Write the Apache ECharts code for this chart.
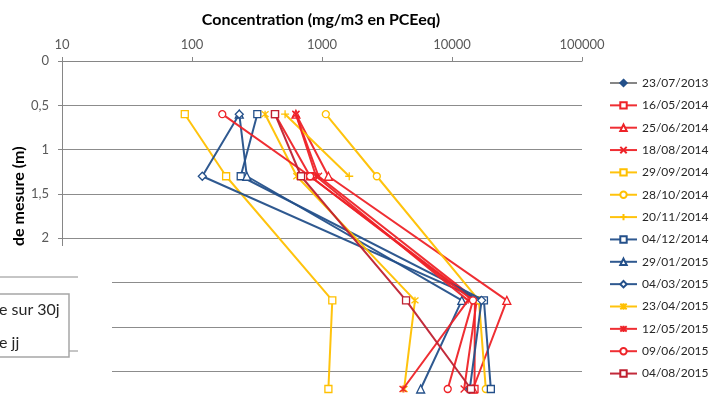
<!DOCTYPE html>
<html>
<head>
<meta charset="utf-8">
<script src="https://cdn.jsdelivr.net/npm/echarts@6/dist/echarts.min.js"></script>
<style>
html,body{margin:0;padding:0;background:#fff;}
#chart{width:709px;height:412px;}
</style>
</head>
<body>
<div id="chart"></div>
<script>
// ---- data ----
const depths = [0.6, 1.3, 2.7, 3.7];
const xTickLabels = ['10', '100', '1000', '10000', '100000'];
const seriesNames = ['23/07/2013','16/05/2014','25/06/2014','18/08/2014','29/09/2014','28/10/2014','20/11/2014','04/12/2014','29/01/2015','04/03/2015','23/04/2015','12/05/2015','09/06/2015','04/08/2015'];
const v_23_07_2013 = [null, null, null, null];
const v_16_05_2014 = [435, 810, 15000, 14900];
const v_25_06_2014 = [630, 1120, 26400, 14500];
const v_18_08_2014 = [630, 940, 15500, 12400];
const v_29_09_2014 = [88, 183, 1200, 1120];
const v_28_10_2014 = [1070, 2640, 16100, 18200];
const v_20_11_2014 = [520, 1620, null, null];
const v_04_12_2014 = [318, 237, 17600, 19900];
const v_29_01_2015 = [231, 264, 11900, 5740];
const v_04_03_2015 = [231, 120, 16900, 13700];
const v_23_04_2015 = [365, 640, 5190, 4280];
const v_12_05_2015 = [630, 900, 13300, 4200];
const v_09_06_2015 = [171, 810, 14500, 9270];
const v_04_08_2015 = [435, 690, 4430, 14000];
const allValues = [v_23_07_2013, v_16_05_2014, v_25_06_2014, v_18_08_2014, v_29_09_2014, v_28_10_2014, v_20_11_2014, v_04_12_2014, v_29_01_2015, v_04_03_2015, v_23_04_2015, v_12_05_2015, v_09_06_2015, v_04_08_2015];

// ---- styles ----
const RED = '#EE2328', GOLD = '#FFC000', BLUE = '#24508A', DRED = '#BF2030', GRAY = '#7F7F7F';
const X_SYM = 'path://M0,0L10,10M10,0L0,10';
const PLUS_SYM = 'path://M5,0L5,10M0,5L10,5';
const STAR_SYM = 'path://M0,0L10,10M10,0L0,10M5,-1L5,11';
const styles = [
  {c: GRAY, s: 'diamond', size: 5, fill: BLUE, border: BLUE},
  {c: RED, s: 'rect', size: 7},
  {c: RED, s: 'triangle', size: 8},
  {c: RED, s: X_SYM, size: 7},
  {c: GOLD, s: 'rect', size: 7},
  {c: GOLD, s: 'circle', size: 7},
  {c: GOLD, s: PLUS_SYM, size: 8},
  {c: BLUE, s: 'rect', size: 7},
  {c: BLUE, s: 'triangle', size: 8},
  {c: BLUE, s: 'diamond', size: 8},
  {c: GOLD, s: STAR_SYM, size: 7},
  {c: RED, s: STAR_SYM, size: 7},
  {c: RED, s: 'circle', size: 7},
  {c: DRED, s: 'rect', size: 7}
];

const FONT = 'Lato';
const chart = echarts.init(document.getElementById('chart'), null, {renderer: 'canvas'});

const series = seriesNames.map((name, i) => {
  const st = styles[i];
  const vals = allValues[i];
  const data = [];
  vals.forEach((v, k) => { if (v != null) data.push([v, depths[k]]); });
  return {
    name: name,
    type: 'line',
    data: data,
    symbol: st.s,
    symbolSize: st.size,
    showSymbol: true,
    showAllSymbol: true,
    clip: false,
    lineStyle: {color: st.c, width: 2, opacity: 0.95},
    itemStyle: {color: st.fill || '#ffffff', borderColor: st.border || st.c, borderWidth: 1.3},
    emphasis: {disabled: true},
    z: 2 + i
  };
});

const option = {
  animation: false,
  backgroundColor: '#ffffff',
  grid: {left: 62, width: 520, top: 61, height: 354.6, containLabel: false, outerBoundsMode: 'none'},
  xAxis: {
    type: 'log',
    logBase: 10,
    min: 10,
    max: 100000,
    position: 'top',
    axisLine: {show: true, lineStyle: {color: '#868686', width: 1}},
    axisTick: {show: true, inside: false, length: 4, lineStyle: {color: '#868686'}},
    minorTick: {show: false},
    splitLine: {show: false},
    axisLabel: {
      margin: 10,
      fontFamily: FONT,
      fontSize: 13,
      color: '#595959',
      formatter: function (v) {
        const idx = Math.round(Math.log10(v)) - 1;
        return xTickLabels[idx] !== undefined ? xTickLabels[idx] : '';
      }
    }
  },
  yAxis: {
    type: 'value',
    inverse: true,
    min: 0,
    max: 4,
    interval: 0.5,
    axisLine: {show: true, lineStyle: {color: '#868686', width: 1}},
    axisTick: {show: true, length: 4, lineStyle: {color: '#868686'}},
    splitLine: {show: true, lineStyle: {color: '#8C8C8C', width: 1}},
    axisLabel: {
      margin: 13,
      fontFamily: FONT,
      fontSize: 13,
      color: '#595959',
      formatter: function (v) { return String(v).replace('.', ','); }
    }
  },
  legend: {
    orient: 'vertical',
    left: 609,
    top: 76,
    padding: 0,
    itemWidth: 27,
    itemHeight: 8,
    itemGap: 8.35,
    textStyle: {fontFamily: FONT, fontSize: 12, color: '#262626', lineHeight: 14},
    data: seriesNames,
    selectedMode: false
  },
  graphic: [
    {type: 'text', z: 50, x: 321, y: 20,
      style: {text: 'Concentration (mg/m3 en PCEeq)', fontFamily: FONT, fontSize: 16, fontWeight: 'bold', fill: '#000000', textAlign: 'center', textVerticalAlign: 'middle'}},
    {type: 'text', z: 50, x: 19, y: 246, rotation: Math.PI / 2,
      style: {text: 'de mesure (m)', fontFamily: FONT, fontSize: 16, fontWeight: 'bold', fill: '#000000', textAlign: 'left', textVerticalAlign: 'middle'}},
    {type: 'rect', z: 100, shape: {x: 0, y: 246, width: 112, height: 170}, style: {fill: '#ffffff'}},
    {type: 'line', z: 101, shape: {x1: 0, y1: 277, x2: 78, y2: 277}, style: {stroke: '#8C8C8C', lineWidth: 1}},
    {type: 'line', z: 101, shape: {x1: 0, y1: 351, x2: 78, y2: 351}, style: {stroke: '#8C8C8C', lineWidth: 1}},
    {type: 'rect', z: 102, shape: {x: -5, y: 294, width: 74, height: 63}, style: {fill: '#ffffff', stroke: '#A6A6A6', lineWidth: 1.5}},
    {type: 'text', z: 103, x: -1, y: 310, style: {text: 'e sur 30j', fontFamily: FONT, fontSize: 16, fill: '#262626', textVerticalAlign: 'middle'}},
    {type: 'text', z: 103, x: -1, y: 343, style: {text: 'e jj', fontFamily: FONT, fontSize: 16, fill: '#262626', textVerticalAlign: 'middle'}}
  ],
  series: series
};
chart.setOption(option);
</script>
</body>
</html>
